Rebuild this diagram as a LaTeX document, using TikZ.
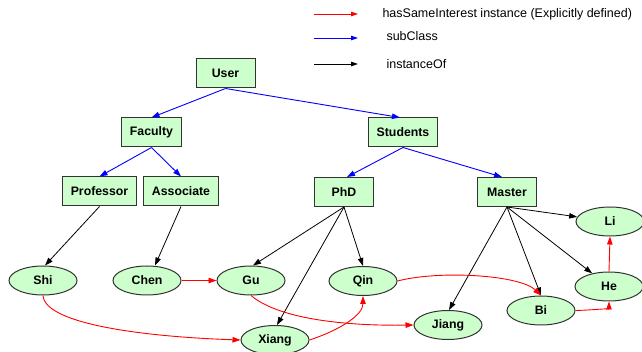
\documentclass[tikz,border=0pt]{standalone}
\usepackage{fontspec}
\setmainfont{Liberation Sans}
\usetikzlibrary{shapes.geometric,arrows.meta}
\definecolor{nodegreen}{HTML}{CCFFCC}
\begin{document}
\begin{tikzpicture}[x=1pt,y=-1pt,
  font=\fontsize{12.3}{14}\selectfont\bfseries,
  classbox/.style={draw=black!80,line width=1pt,fill=nodegreen,minimum height=29pt,minimum width=59pt,inner xsep=8.5pt,inner ysep=0pt},
  inst/.style={ellipse,draw=black!80,line width=1pt,fill=nodegreen,minimum height=29pt,minimum width=68pt,inner sep=0pt},
  tip/.style={-{Triangle[length=8pt,width=5.5pt]}},
  sub/.style={tip,draw=blue,line width=0.9pt},
  iof/.style={tip,draw=black,line width=0.8pt},
  same/.style={tip,draw=red,line width=0.9pt},
  legtext/.style={anchor=west,font=\fontsize{12.5}{14}\selectfont}
]
\useasboundingbox (0,0) rectangle (642,352);
% classes
\node[classbox] (User) at (225.5,73.5) {User};
\node[classbox] (Faculty) at (151.5,132.5) {Faculty};
\node[classbox] (Students) at (403,132.5) {Students};
\node[classbox] (Professor) at (99.5,191.5) {Professor};
\node[classbox] (Associate) at (181,191.5) {Associate};
\node[classbox] (PhD) at (344,192) {PhD};
\node[classbox] (Master) at (507,192) {Master};
% instances
\node[inst] (Shi) at (43,280.5) {Shi};
\node[inst] (Chen) at (147,280.5) {Chen};
\node[inst] (Gu) at (251,280.5) {Gu};
\node[inst] (Xiang) at (275,340) {Xiang};
\node[inst] (Qin) at (363,281) {Qin};
\node[inst] (Jiang) at (448,325) {Jiang};
\node[inst] (Bi) at (541,310.5) {Bi};
\node[inst] (He) at (609,286.5) {He};
\node[inst] (Li) at (610,221.5) {Li};
% subclass
\draw[sub] (User.south) -- (Faculty.north);
\draw[sub] (User.south) -- ([xshift=-3pt]Students.north);
\draw[sub] (Faculty.south) -- (Professor.north);
\draw[sub] (Faculty.south) -- (Associate.north);
\draw[sub] (Students.south) -- ([xshift=3pt]PhD.north);
\draw[sub] (Students.south) -- ([xshift=-5pt]Master.north);
% instanceOf
\draw[iof] (Professor.south) -- ([xshift=2pt]Shi.north);
\draw[iof] (Associate.south) -- ([xshift=8pt]Chen.north);
\draw[iof] (PhD.south) -- ([xshift=2pt]Gu.north);
\draw[iof] (PhD.south) -- ([xshift=2pt]Xiang.north);
\draw[iof] (PhD.south) -- (Qin.north);
\draw[iof] (Master.south) -- (Li);
\draw[iof] (Master.south) -- (He);
\draw[iof] (Master.south) -- (Bi.north);
\draw[iof] (Master.south) -- ([xshift=1pt]Jiang.north);
% hasSameInterest
\draw[same] (Chen.east) -- (Gu.west);
\draw[same] (Shi.south) .. controls (45,325) and (150,337) .. (Xiang.west);
\draw[same] (Gu.south) .. controls (280,320) and (350,326) .. (Jiang.west);
\draw[same] (Xiang.east) .. controls (340,330) and (363,315) .. (Qin.south);
\draw[same] (Qin.east) .. controls (440,270) and (520,275) .. (Bi.north);
\draw[same] (Bi.east) .. controls (595,310) and (609,308) .. (He.south);
\draw[same] (He.north) -- (Li.south);
% legend
\coordinate (r1) at (314,14); \coordinate (r2) at (358,14);
\coordinate (b1) at (314,38); \coordinate (b2) at (358,38);
\coordinate (k1) at (314,64); \coordinate (k2) at (358,64);
\draw[red,line width=0.9pt,-{Triangle[length=7pt,width=4.5pt]}] (r1) -- (r2);
\draw[blue,line width=0.9pt,-{Triangle[length=7pt,width=4.5pt]}] (b1) -- (b2);
\draw[black,line width=0.8pt,-{Triangle[length=7pt,width=4.5pt]}] (k1) -- (k2);
\node[legtext] (L1) at (379,14) {hasSameInterest instance (Explicitly defined)};
\node[legtext] (L2) at (383,36) {subClass};
\node[legtext] (L3) at (383,64) {instanceOf};
\end{tikzpicture}
\end{document}
